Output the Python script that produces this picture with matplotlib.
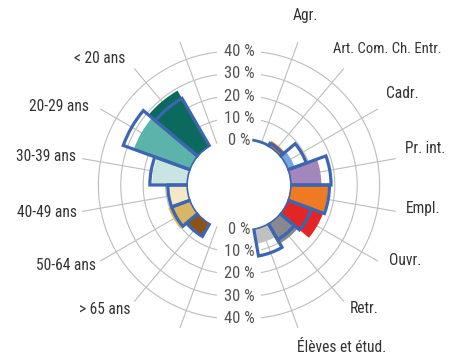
import numpy as np
import matplotlib.pyplot as plt

plt.rcParams['font.family'] = ['Roboto Condensed', 'DejaVu Sans Condensed',
                               'Open Sans Condensed', 'Roboto', 'DejaVu Sans']

# moitié gauche : tranches d'âge
ages = ['< 20 ans', '20-29 ans', '30-39 ans', '40-49 ans', '50-64 ans', '> 65 ans']
ages_val = [29, 27, 16, 8.5, 10.5, 7.2]
ages_ref = [25, 32, 17, 9, 9, 6.8]
ages_col = ['#0b6a5d', '#5bb3a9', '#c9e5e2', '#f6e8c6', '#d9b665', '#8c5216']

# moitié droite : catégories socioprofessionnelles
pcs = ['Agr.', 'Art. Com. Ch. Entr.', 'Cadr.', 'Pr. int.', 'Empl.', 'Ouvr.',
       'Retr.', 'Élèves et étud.']
pcs_val = [0.3, 3, 3.5, 14, 17, 17, 10.5, 7]
pcs_ref = [0.5, 1.8, 9, 18.3, 17.6, 11.5, 8.5, 12.5]
pcs_col = ['#7fae4a', '#e0782a', '#74a8dc', '#a286bc', '#f07a22', '#e32526',
           '#88888e', '#c0c0c0']

ticks = [0, 10, 20, 30, 40]

# mise en page (pixels)
W, H = 449, 358
CY = 185
PX = 2.24          # pixels par point de %
RORIG = -19.66     # trou central
RMAX = 60
BLUE = '#3c66b2'
GRID = '#bdbdbd'

fig = plt.figure(figsize=(W / 100, H / 100), dpi=100)


def half(cx):
    R = (RMAX - RORIG) * PX
    ax = fig.add_axes([(cx - R) / W, (H - CY - R) / H, 2 * R / W, 2 * R / H],
                      projection='polar')
    ax.set_theta_zero_location('N')
    ax.set_theta_direction(-1)
    ax.set_rorigin(RORIG)
    ax.set_rlim(0, RMAX)
    ax.set_axis_off()
    return ax


axl = half(232)
axr = half(246)

step = np.radians(20)

# cercles et rayons
for ax, t0 in [(axl, np.pi), (axr, 0)]:
    th = np.linspace(t0, t0 + np.pi, 200)
    for t in ticks[1:]:
        ax.plot(th, np.full_like(th, t), color=GRID, lw=0.8, zorder=1)
    for k in range(1, 9):
        a = t0 + k * step
        ax.plot([a, a], [0, 48], color=GRID, lw=0.8, zorder=1)

# âges : de -40° à -140°
th_l = -np.radians(40 + 20 * np.arange(len(ages)))
axl.bar(th_l, ages_val, width=step, bottom=0, color=ages_col, lw=0, zorder=2)
axl.bar(th_l, ages_ref, width=step, bottom=0, fill=False, edgecolor=BLUE,
        lw=2.3, joinstyle='miter', zorder=3)

# PCS : de 20° à 160°
th_r = np.radians(20 + 20 * np.arange(len(pcs)))
axr.bar(th_r, pcs_val, width=step, bottom=0, color=pcs_col, lw=0, zorder=2)
axr.bar(th_r, pcs_ref, width=step, bottom=0, fill=False, edgecolor=BLUE,
        lw=2.3, joinstyle='miter', zorder=3)

# graduations au milieu, en haut et en bas
for a in [0, np.pi]:
    for t in ticks:
        axr.annotate(f'{t} %', xy=(a, t), xytext=(-7, 0),
                     textcoords='offset pixels', ha='center', va='center',
                     fontsize=12, color='#555555', zorder=1.5,
                     bbox=dict(boxstyle='square,pad=0.4', fc='white', ec='none'))

# étiquettes des catégories
lab_l = [(-40.3, 54.2), (-61.1, 53.3), (-79.6, 51.2), (-100.2, 50.7),
         (-120.5, 50.8), (-140.6, 52.0)]
for s, (a, r) in zip(ages, lab_l):
    axl.text(np.radians(a), r, s, ha='right', va='center', fontsize=11.2,
             color='#333333')

lab_r = [(15.5, 58.7), (32.6, 52.4), (56.8, 55.0), (77.1, 53.2), (98.4, 52.5),
         (117.7, 52.4), (139.9, 52.4), (162.5, 56.2)]
for s, (a, r) in zip(pcs, lab_r):
    axr.text(np.radians(a), r, s, ha='left', va='center',
             fontsize=10.6 if len(s) > 16 else 11.2, color='#333333')

fig.savefig('out.png', dpi=100)
